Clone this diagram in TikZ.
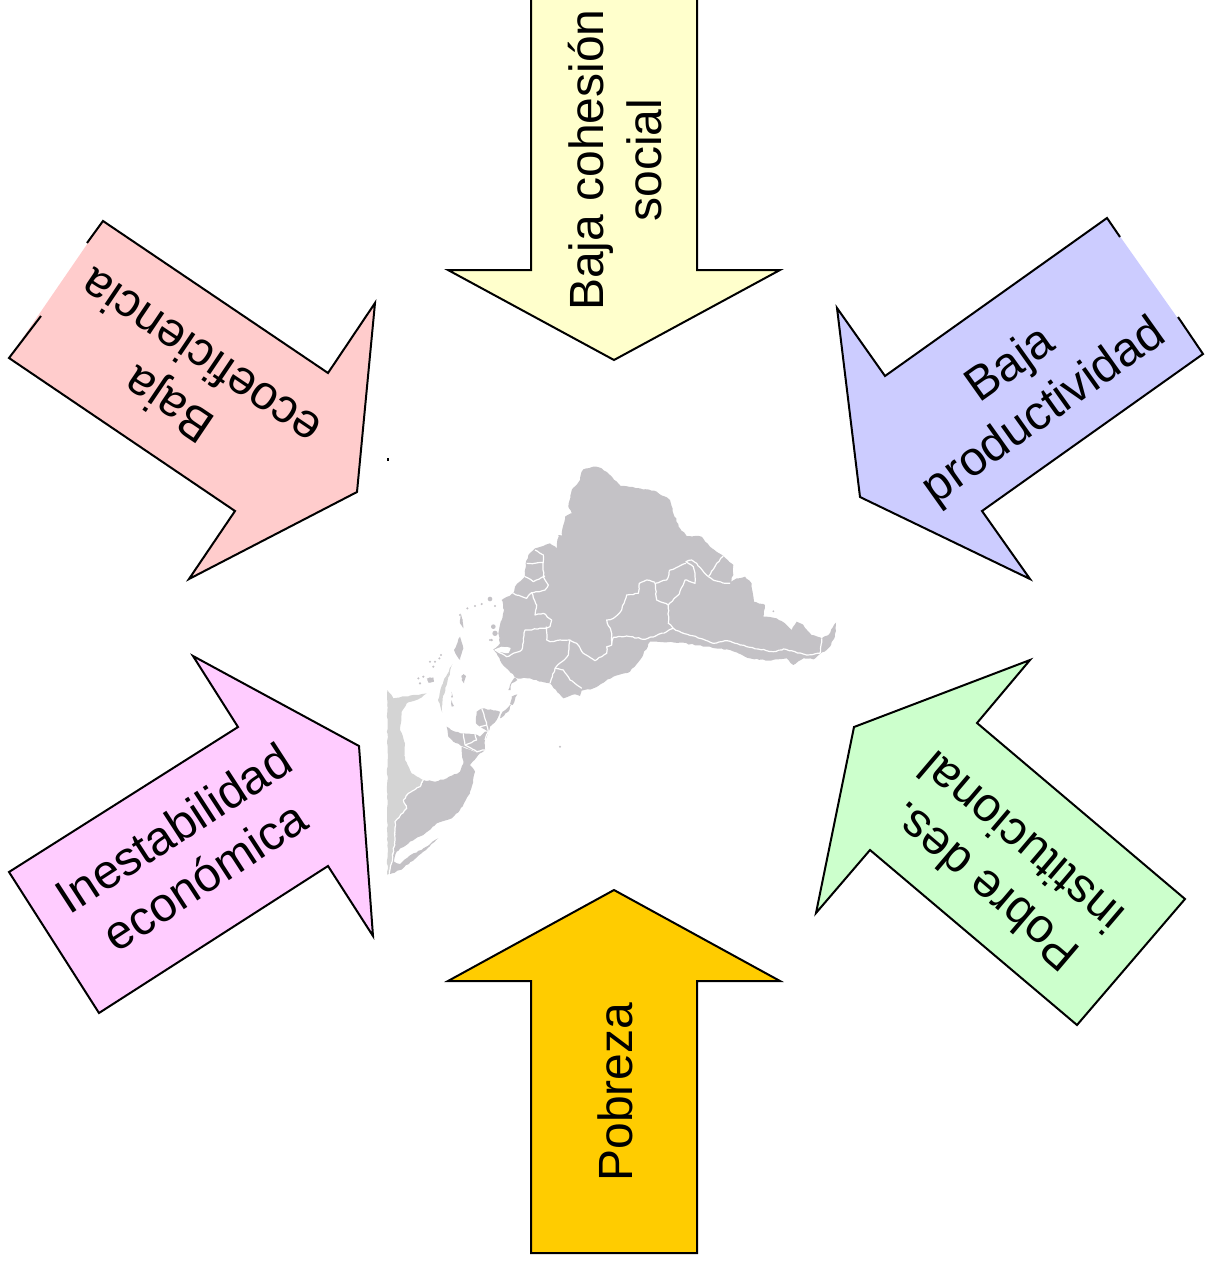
\documentclass[tikz,border=0pt]{standalone}
\usepackage{fontspec}
\usetikzlibrary{decorations.pathmorphing}
\setmainfont{Liberation Sans}
\definecolor{yel}{HTML}{FFFFCC}
\definecolor{org}{HTML}{FFCC00}
\definecolor{blu}{HTML}{CCCCFF}
\definecolor{pnk}{HTML}{FFCCCC}
\definecolor{mag}{HTML}{FFCCFF}
\definecolor{grn}{HTML}{CCFFCC}
\definecolor{mapd}{HTML}{C4C2C6}
\definecolor{mapl}{HTML}{D4D4D4}
\pgfmathsetseed{7}
\tikzset{
  edge/.style={draw=black,line width=1.5pt,line join=miter},
  lbl/.style={font=\fontsize{36pt}{43pt}\selectfont,align=center,text=black,inner sep=0pt},
  rough/.style={decorate,decoration={random steps,segment length=2.2pt,amplitude=0.45pt}},
  land/.style={fill=mapd,draw=none,rough},
  landl/.style={fill=mapl,draw=none,rough},
  speck/.style={fill=mapd,draw=none},
  border/.style={draw=white,line width=0.9pt,line join=round,rough},
  zoomA/.style={shift={(380,450)},x=0.25pt,y=-0.25pt},
  zoomB/.style={shift={(380,590)},x=0.25pt,y=-0.25pt}
}
\begin{document}
\begin{tikzpicture}[x=0.75pt,y=-0.75pt]
\useasboundingbox (0,0) rectangle (1204,1263);
% yellow
\path[fill=yel] (531,-3) -- (531,270) -- (448,270) -- (614,360) -- (780,270) -- (697,270) -- (697,-3) -- cycle;
\path[edge] (531,-3) -- (531,270) -- (448,270) -- (614,360) -- (780,270) -- (697,270) -- (697,-3);
\node[lbl,rotate=90] (cohesion) at (615,160) {Baja cohesión\\social};
% orange
\path[fill=org,edge] (614,890) -- (780,981) -- (697,981) -- (697,1253) -- (531,1253) -- (531,981) -- (448,981) -- cycle;
\node[lbl,rotate=90] (pobreza) at (615,1092) {Pobreza};
% blue
\path[fill=blu] (1107,218) -- (1203,354) -- (982,511) -- (1030,579) -- (860,497) -- (837,308) -- (885,376) -- cycle;
\path[edge] (1120,237) -- (1107,218) -- (885,376) -- (837,308) -- (860,497) -- (1030,579) -- (982,511) -- (1203,354) -- (1178,317);
\node[lbl,rotate=35.4] (prod) at (1028,389) {Baja\\productividad};
% pink
\path[fill=pnk] (103,221) -- (328,373) -- (375,303) -- (357,492) -- (189,579) -- (235,511) -- (9,358) -- cycle;
\path[edge] (87,243) -- (103,221) -- (328,373) -- (375,303) -- (357,492) -- (189,579) -- (235,511) -- (9,358) -- (41,316);
\node[lbl,rotate=146] (eco) at (184,382) {Baja\\ecoeficiencia};
% magenta
\path[fill=mag,edge] (193,656) -- (359,746) -- (373,936) -- (328,866) -- (99,1013) -- (9,872) -- (238,727) -- cycle;
\node[lbl,rotate=33] (ines) at (189,852) {Inestabilidad\\económica};
% green
\path[fill=grn,edge] (1030,660) -- (977,723) -- (1185,899) -- (1077,1025) -- (870,850) -- (816,913) -- (854,727) -- cycle;
\node[lbl,rotate=139.6] (inst) at (1002,865) {Pobre des.\\institucional};
% map: north part
\begin{scope}[zoomA]
\path[land] (610,58) -- (640,50) -- (665,55) -- (690,75) -- (722,108) -- (780,115) -- (830,125) -- (870,150) -- (880,190) -- (900,235) -- (920,258) -- (965,260) -- (990,290) -- (1030,318) -- (1060,345) -- (1060,375) -- (1050,400) -- (1070,385) -- (1095,380) -- (1115,400) -- (1122,455) -- (1155,465) -- (1150,500) -- (1190,505) -- (1215,520) -- (1235,540) -- (1250,515) -- (1270,525) -- (1295,555) -- (1325,565) -- (1345,555) -- (1368,518) -- (1365,560) -- (1350,590) -- (1340,600) -- (1320,612) -- (1300,628) -- (1270,625) -- (1240,645) -- (1220,625) -- (1190,628) -- (1165,632) -- (1110,625) -- (1050,600) -- (980,590) -- (900,578) -- (810,575) -- (780,630) -- (750,665) -- (700,680) -- (640,715) -- (605,722) -- (600,738) -- (585,733) -- (550,745) -- (510,700) -- (485,695) -- (450,685) -- (410,685) -- (385,660) -- (365,640) -- (350,610) -- (340,598) -- (360,580) -- (355,550) -- (365,510) -- (372,480) -- (365,450) -- (400,430) -- (405,410) -- (435,380) -- (437,340) -- (445,315) -- (465,295) -- (510,280) -- (530,295) -- (535,255) -- (552,258) -- (557,285) -- (545,250) -- (555,200) -- (575,190) -- (565,170) -- (575,120) -- (600,90) -- (605,65) -- cycle;
\path[land] (240,560) -- (250,595) -- (240,630) -- (222,600) -- cycle;
\path[speck] (340,530) circle (7);
\path[speck] (345,550) circle (8);
\path[speck] (335,570) circle (4);
\path[speck] (330,447) circle (7);
\path[speck] (150,690) circle (8);
\path[speck] (250,680) circle (6);
\path[speck] (1180,484) circle (3);
\draw[border,fill=white] (345,600) -- (365,592) -- (390,595) -- (385,607) -- (360,605) -- cycle;
\draw[border] (985,380) -- (1010,340) -- (1030,318);
\draw[border] (985,380) -- (1005,392) -- (1040,400) -- (1050,400);
\draw[border] (985,380) -- (950,340) -- (935,330) -- (918,335) -- (940,350) -- (945,380) -- (945,400) -- (915,390) -- (895,435) -- (865,465) -- (830,450) -- (825,400) -- (860,390) -- (870,360) -- (895,350) -- (918,340);
\draw[border] (825,397) -- (800,390) -- (778,400) -- (775,430) -- (740,435) -- (725,480) -- (700,505) -- (680,510) -- (695,550) -- (695,585) -- (680,590) -- (680,610) -- (645,632) -- (610,610) -- (590,580) -- (570,570) -- (540,570) -- (510,575) -- (500,570) -- (498,530);
\draw[border] (695,580) -- (700,562) -- (740,558) -- (795,568) -- (860,545) -- (880,535) -- (905,548) -- (960,565) -- (1000,580) -- (1040,572) -- (1100,590) -- (1180,605) -- (1210,597) -- (1280,615) -- (1320,610) -- (1325,565);
\draw[border] (865,465) -- (865,520) -- (880,535);
\draw[border] (570,570) -- (565,615) -- (525,655) -- (510,700);
\draw[border] (525,655) -- (550,660) -- (570,690) -- (605,715);
\draw[border] (465,300) -- (490,315) -- (490,380) -- (505,405) -- (495,420) -- (455,428);
\draw[border] (440,340) -- (490,338);
\draw[border] (435,380) -- (460,395) -- (495,378);
\draw[border] (400,430) -- (440,445) -- (455,428) -- (470,465) -- (465,495) -- (490,490) -- (515,510) -- (510,530) -- (498,535) -- (435,540) -- (425,600) -- (380,620) -- (345,600);
\end{scope}
% map: south part
\begin{scope}[zoomB]
\path[landl] (22,300) -- (40,325) -- (100,315) -- (140,310) -- (120,325) -- (80,340) -- (65,365) -- (60,420) -- (75,460) -- (75,510) -- (95,550) -- (130,570) -- (120,590) -- (85,610) -- (70,630) -- (80,655) -- (45,695) -- (45,750) -- (38,800) -- (28,850) -- (22,855) -- cycle;
\path[landl] (217,222) -- (200,285) -- (188,325) -- (187,368) -- (174,330) -- (190,275) -- cycle;
\path[land] (130,570) -- (165,575) -- (200,565) -- (240,545) -- (250,520) -- (245,470) -- (300,490) -- (270,525) -- (285,545) -- (270,610) -- (240,660) -- (215,685) -- (170,700) -- (130,735) -- (90,755) -- (50,785) -- (42,815) -- (60,822) -- (85,800) -- (130,775) -- (175,745) -- (130,785) -- (100,812) -- (60,840) -- (30,852) -- (30,830) -- (38,800) -- (45,750) -- (45,695) -- (80,655) -- (70,630) -- (85,610) -- (120,590) -- cycle;
\path[land] (200,410) -- (225,425) -- (250,430) -- (285,432) -- (300,440) -- (315,425) -- (325,425) -- (315,450) -- (315,480) -- (300,490) -- (250,470) -- (220,455) -- (205,440) -- cycle;
\path[land] (290,365) -- (305,355) -- (360,365) -- (350,390) -- (330,410) -- (325,425) -- (300,410) -- (288,400) -- cycle;
\path[land] (360,385) -- (368,365) -- (395,342) -- (385,365) -- cycle;
\path[land] (390,342) -- (395,320) -- (412,313) -- (398,345) -- cycle;
\path[land] (385,300) -- (395,275) -- (405,262) -- (412,270) -- (395,280) -- (392,300) -- cycle;
\path[land] (140,265) -- (160,262) -- (162,275) -- (145,278) -- cycle;
\path[land] (250,252) -- (258,258) -- (252,280) -- (245,270) -- cycle;
\path[land] (215,330) -- (222,348) -- (215,350) -- cycle;
\path[land] (215,305) -- (219,322) -- (213,322) -- cycle;
\path[land] (242,70) -- (250,115) -- (240,100) -- cycle;
\foreach \a/\b in {262/55,285/48,305/42,345/48,150/215,165/215,178/205,160/230,183/195,115/265,130/260,120/280,540/470,330/150,240/75,245/90}
  \path[speck] (\a,\b) circle (3.5);
\draw[border] (130,570) -- (120,590) -- (85,610) -- (70,630) -- (80,655) -- (45,695) -- (45,750) -- (38,800) -- (28,850);
\draw[border] (305,355) -- (320,405) -- (325,425);
\draw[border] (300,410) -- (320,405);
\draw[border] (250,430) -- (255,465) -- (290,485) -- (315,480);
\draw[border] (285,432) -- (290,450) -- (255,465);
\draw[border] (315,450) -- (325,425);
\end{scope}
% specks
\path[fill=black] (387,458) rectangle (389,461);
\end{tikzpicture}
\end{document}
